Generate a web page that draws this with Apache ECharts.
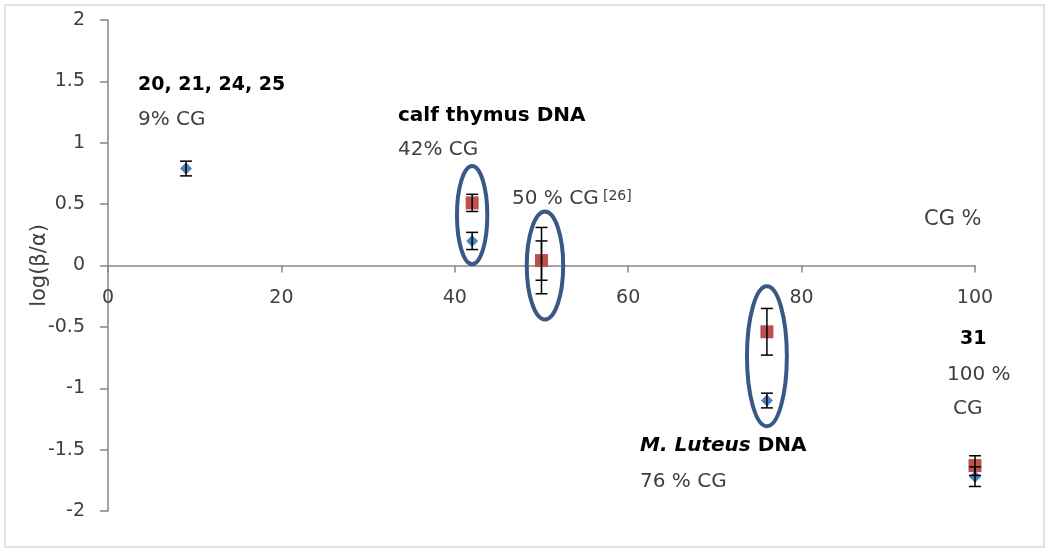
<!DOCTYPE html>
<html>
<head>
<meta charset="utf-8">
<script src="https://cdn.jsdelivr.net/npm/echarts@6/dist/echarts.min.js"></script>
<style>
  html, body { margin: 0; padding: 0; background: #fff; }
  #chart { width: 1050px; height: 557px; }
</style>
</head>
<body>
<div id="chart"></div>
<script>
// CG content (%) and log(beta/alpha) values
const blueX = [9, 42, 50, 76, 100];
const blueY = [0.79, 0.20, 0.04, -1.10, -1.72];
const blueErr = [0.06, 0.07, 0.27, 0.06, 0.08];

const redX = [42, 50, 76, 100];
const redY = [0.51, 0.04, -0.54, -1.63];
const redErr = [0.07, 0.16, 0.19, 0.08];

// groups circled in the figure (centre x, centre y, half width, half height in data units)
const ringX = [42, 50.4, 76];
const ringY = [0.41, 0.0, -0.74];
const ringRx = [1.75, 2.1, 2.3];
const ringRy = [0.40, 0.44, 0.57];

const xTicks = { min: 0, max: 100, interval: 20 };
const yTicks = { min: -2, max: 2, interval: 0.5 };

const FONT = '"DejaVu Sans", sans-serif';

const chart = echarts.init(document.getElementById('chart'));

// error bar renderer
const errorBar = (params, api) => {
  const x = api.value(0), y = api.value(1), e = api.value(2);
  const top = api.coord([x, y + e]);
  const bot = api.coord([x, y - e]);
  const w = 6;
  const style = { stroke: '#000', lineWidth: 1.5 };
  return {
    type: 'group',
    children: [
      { type: 'line', shape: { x1: top[0], y1: top[1], x2: bot[0], y2: bot[1] }, style },
      { type: 'line', shape: { x1: top[0] - w, y1: top[1], x2: top[0] + w, y2: top[1] }, style },
      { type: 'line', shape: { x1: bot[0] - w, y1: bot[1], x2: bot[0] + w, y2: bot[1] }, style }
    ]
  };
};

const option = {
  backgroundColor: '#fff',
  animation: false,
  grid: { left: 108, right: 75, top: 20, bottom: 46 },
  xAxis: {
    type: 'value',
    min: xTicks.min, max: xTicks.max, interval: xTicks.interval,
    axisLine: { onZero: true, lineStyle: { color: '#868686', width: 1.5 } },
    axisTick: { show: true, length: 7, lineStyle: { color: '#868686', width: 1.5 } },
    // labels sit just under the y=0 line, as in the original
    axisLabel: { color: '#404040', fontSize: 19, fontFamily: FONT, margin: -222 },
    splitLine: { show: false }
  },
  yAxis: {
    type: 'value',
    min: yTicks.min, max: yTicks.max, interval: yTicks.interval,
    name: 'log(β/α)',
    nameLocation: 'middle',
    nameGap: 58,
    nameMoveOverlap: false,
    nameTextStyle: { color: '#404040', fontSize: 21, fontFamily: FONT },
    axisLine: { show: true, lineStyle: { color: '#868686', width: 1.5 } },
    axisTick: { show: true, length: 8, lineStyle: { color: '#868686', width: 1.5 } },
    axisLabel: { color: '#404040', fontSize: 19, fontFamily: FONT, margin: 23 },
    splitLine: { show: false }
  },
  series: [
    {
      type: 'custom',
      renderItem: (params, api) => {
        const c = api.coord([api.value(0), api.value(1)]);
        const s = api.size([api.value(2), api.value(3)]);
        return {
          type: 'ellipse',
          shape: { cx: c[0], cy: c[1], rx: s[0], ry: s[1] },
          style: { fill: 'none', stroke: '#3a5886', lineWidth: 4 }
        };
      },
      data: ringX.map((x, i) => [x, ringY[i], ringRx[i], ringRy[i]]),
      z: 1
    },
    {
      type: 'scatter',
      symbol: 'diamond',
      symbolSize: 12,
      itemStyle: { color: '#4f81bd', opacity: 1 },
      data: blueX.map((x, i) => [x, blueY[i]]),
      z: 2
    },
    {
      type: 'scatter',
      symbol: 'rect',
      symbolSize: 13,
      itemStyle: { color: '#c0504d', opacity: 1 },
      data: redX.map((x, i) => [x, redY[i]]),
      z: 3
    },
    {
      type: 'custom',
      renderItem: errorBar,
      data: blueX.map((x, i) => [x, blueY[i], blueErr[i]]),
      z: 4
    },
    {
      type: 'custom',
      renderItem: errorBar,
      data: redX.map((x, i) => [x, redY[i], redErr[i]]),
      z: 4
    }
  ],
  graphic: [
    { type: 'rect', shape: { x: 5, y: 5, width: 1039, height: 542 }, style: { fill: 'none', stroke: '#d9d9d9', lineWidth: 1.5 }, silent: true },
    { type: 'text', left: 138, top: 76, style: { text: '20, 21, 24, 25', font: 'bold 19px ' + FONT, fill: '#000' } },
    { type: 'text', left: 138, top: 110, style: { text: '9% CG', font: '20px ' + FONT, fill: '#404040' } },
    { type: 'text', left: 398, top: 106, style: { text: 'calf thymus DNA', font: 'bold 20px ' + FONT, fill: '#000' } },
    { type: 'text', left: 398, top: 140, style: { text: '42% CG', font: '20px ' + FONT, fill: '#404040' } },
    { type: 'text', left: 512, top: 189, style: { text: '50 % CG', font: '20px ' + FONT, fill: '#404040' } },
    { type: 'text', left: 603, top: 189, style: { text: '[26]', font: '14px ' + FONT, fill: '#404040' } },
    { type: 'text', left: 924, top: 209, style: { text: 'CG %', font: '21px ' + FONT, fill: '#404040' } },
    { type: 'text', left: 960, top: 330, style: { text: '31', font: 'bold 19px ' + FONT, fill: '#000' } },
    { type: 'text', left: 947, top: 365, style: { text: '100 %', font: '20px ' + FONT, fill: '#404040' } },
    { type: 'text', left: 953, top: 399, style: { text: 'CG', font: '20px ' + FONT, fill: '#404040' } },
    {
      type: 'text', left: 640, top: 436,
      style: {
        text: '{i|M. Luteus}{b| DNA}',
        rich: {
          i: { font: 'italic bold 20px ' + FONT, fill: '#000' },
          b: { font: 'bold 20px ' + FONT, fill: '#000' }
        }
      }
    },
    { type: 'text', left: 640, top: 472, style: { text: '76 % CG', font: '20px ' + FONT, fill: '#404040' } }
  ]
};

chart.setOption(option);
window.addEventListener('resize', () => chart.resize());
</script>
</body>
</html>
